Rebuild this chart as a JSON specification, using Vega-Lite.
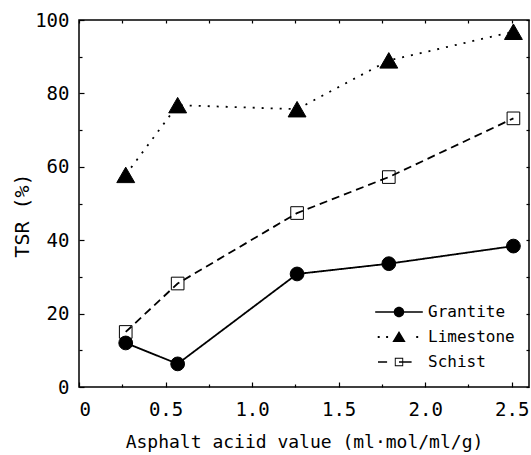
{
  "$schema": "https://vega.github.io/schema/vega-lite/v6.json",
  "width": 450,
  "height": 367,
  "autosize": "none",
  "padding": {"left": 79, "top": 20, "right": 2, "bottom": 68},
  "background": "white",
  "config": {
    "view": {"stroke": "black", "strokeWidth": 1.5},
    "font": "DejaVu Sans Mono",
    "axis": {
      "domain": false,
      "grid": false,
      "tickColor": "black",
      "tickWidth": 1.2,
      "labelColor": "black",
      "titleColor": "black",
      "labelFont": "DejaVu Sans Mono",
      "titleFont": "DejaVu Sans Mono",
      "labelFontSize": 19,
      "titleFontSize": 18,
      "titleFontWeight": "normal",
      "labelOverlap": false
    }
  },
  "data": {
    "values": [
      {"series": "Grantite", "x": 0.27, "y": 12.0},
      {"series": "Grantite", "x": 0.57, "y": 6.3},
      {"series": "Grantite", "x": 1.26, "y": 30.8},
      {"series": "Grantite", "x": 1.79, "y": 33.6},
      {"series": "Grantite", "x": 2.51, "y": 38.4},
      {"series": "Limestone", "x": 0.27, "y": 57.8},
      {"series": "Limestone", "x": 0.57, "y": 76.8},
      {"series": "Limestone", "x": 1.26, "y": 75.7},
      {"series": "Limestone", "x": 1.79, "y": 89.0},
      {"series": "Limestone", "x": 2.51, "y": 96.8},
      {"series": "Schist", "x": 0.27, "y": 15.0},
      {"series": "Schist", "x": 0.57, "y": 28.2},
      {"series": "Schist", "x": 1.26, "y": 47.4},
      {"series": "Schist", "x": 1.79, "y": 57.2},
      {"series": "Schist", "x": 2.51, "y": 73.2}
    ]
  },
  "resolve": {
    "scale": {"shape": "independent"},
    "axis": {"x": "independent", "y": "independent"}
  },
  "layer": [
    {
      "mark": {"type": "line", "color": "black", "strokeWidth": 1.8},
      "encoding": {
        "x": {
          "field": "x", "type": "quantitative",
          "scale": {"domain": [0, 2.6], "nice": false, "zero": false},
          "axis": {
            "orient": "bottom",
            "values": [0, 0.25, 0.5, 0.75, 1, 1.25, 1.5, 1.75, 2, 2.25, 2.5],
            "labelExpr": "datum.value == 0 ? '0' : (datum.value % 0.5 == 0 ? format(datum.value, '.1f') : '')",
            "tickSize": {"condition": {"test": "datum.value % 0.5 == 0", "value": -5}, "value": -3},
            "labelPadding": 18,
            "labelFlush": 1,
            "title": "Asphalt aciid value (ml·mol/ml/g)",
            "titleY": 60,
            "titleBaseline": "alphabetic"
          }
        },
        "y": {
          "field": "y", "type": "quantitative",
          "scale": {"domain": [0, 100], "nice": false, "zero": false},
          "axis": {
            "orient": "left",
            "values": [0, 10, 20, 30, 40, 50, 60, 70, 80, 90, 100],
            "labelExpr": "datum.value % 20 == 0 ? format(datum.value, 'd') : ''",
            "tickSize": {"condition": {"test": "datum.value % 20 == 0", "value": -5}, "value": -3},
            "labelPadding": 15,
            "labelFlush": false,
            "title": "TSR (%)",
            "titleFontSize": 20,
            "titleAngle": 270,
            "titleX": -57,
            "titleY": 195,
            "titleAlign": "center",
            "titleBaseline": "middle"
          }
        },
        "strokeDash": {
          "field": "series", "type": "nominal",
          "scale": {"domain": ["Grantite", "Limestone", "Schist"], "range": [[1, 0], [2, 7], [8, 5]]},
          "legend": null
        }
      }
    },
    {
      "mark": {"type": "point", "filled": true, "stroke": "black", "strokeWidth": 1, "opacity": 1},
      "encoding": {
        "x": {
          "field": "x", "type": "quantitative",
          "axis": {"orient": "top", "values": [0, 0.25, 0.5, 0.75, 1, 1.25, 1.5, 1.75, 2, 2.25, 2.5], "labels": false, "tickSize": -3, "title": null}
        },
        "y": {
          "field": "y", "type": "quantitative",
          "axis": {"orient": "right", "values": [0, 10, 20, 30, 40, 50, 60, 70, 80, 90, 100], "labels": false, "tickSize": -3, "title": null}
        },
        "shape": {
          "field": "series", "type": "nominal",
          "scale": {"domain": ["Grantite", "Limestone", "Schist"], "range": ["circle", "triangle-up", "square"]},
          "legend": null
        },
        "fill": {
          "field": "series", "type": "nominal",
          "scale": {"domain": ["Grantite", "Limestone", "Schist"], "range": ["black", "black", "transparent"]},
          "legend": null
        },
        "size": {
          "field": "series", "type": "nominal",
          "scale": {"type": "ordinal", "domain": ["Grantite", "Limestone", "Schist"], "range": [190, 320, 160]},
          "legend": null
        }
      }
    },
    {
      "transform": [{"filter": "false"}],
      "mark": {"type": "point", "filled": true, "fill": "black", "opacity": 1},
      "encoding": {
        "x": {"field": "x", "type": "quantitative", "axis": null},
        "y": {"field": "y", "type": "quantitative", "axis": null},
        "shape": {
          "field": "series", "type": "nominal",
          "scale": {
            "domain": ["Grantite", "Limestone", "Schist"],
            "range": [
              "M-3.4,-0.115H3.4V0.115H-3.4ZM-0.75,0A0.75,0.75,0,1,1,0.75,0A0.75,0.75,0,1,1,-0.75,0Z",
              "M-3.04,-0.14h0.28v0.28h-0.28ZM-1.84,-0.14h0.28v0.28h-0.28ZM2.46,-0.14h0.28v0.28h-0.28ZM0,-0.85L0.95,0.72L-0.95,0.72Z",
              "M-3.0,-0.115H-1.7V0.115H-3.0ZM0,-0.115H1.8V0.115H0ZM-0.6,-0.6H0.6V0.6H-0.6ZM-0.47,-0.47V0.47H0.47V-0.47Z"
            ]
          },
          "legend": {
            "title": null,
            "orient": "none",
            "legendX": 312,
            "legendY": 284,
            "padding": 0,
            "symbolSize": 196,
            "labelOffset": 21,
            "rowPadding": 9,
            "labelFontSize": 16,
            "labelFont": "DejaVu Sans Mono",
            "labelColor": "black",
            "symbolStrokeWidth": 0,
            "symbolFillColor": "black",
            "symbolOpacity": 1
          }
        }
      }
    }
  ]
}
